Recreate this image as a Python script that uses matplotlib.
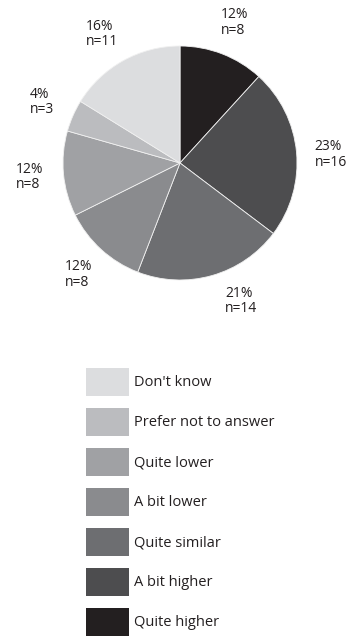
import matplotlib.pyplot as plt
from matplotlib.patches import Patch
import numpy as np

plt.rcParams['font.family'] = ['Open Sans', 'DejaVu Sans']

# answers, clockwise from the top
labels = ["Quite higher", "A bit higher", "Quite similar", "A bit lower",
          "Quite lower", "Prefer not to answer", "Don't know"]
counts = [8, 16, 14, 8, 8, 3, 11]
pcts = [12, 23, 21, 12, 12, 4, 16]
colors = ['#231f20', '#4d4d4f', '#6d6e71', '#8a8b8e',
          '#a0a1a4', '#bbbcbf', '#dcdddf']
# small angular nudges (degrees) for the value labels
nudge = [0, -2, 8, 0, 0, 0, 2]

W, H = 349, 639
fig = plt.figure(figsize=(W / 100, H / 100), dpi=100)

cx, cy, r = 180, 163, 117
ax = fig.add_axes([(cx - r) / W, (H - cy - r) / H, 2 * r / W, 2 * r / H])
wedges, _ = ax.pie(counts, colors=colors, startangle=90, counterclock=False,
                   radius=1, wedgeprops=dict(edgecolor='#f0f0f0', linewidth=0.6))
ax.set_xlim(-1, 1)
ax.set_ylim(-1, 1)
ax.set_aspect('equal')
ax.axis('off')

# value labels outside each wedge
for w, p, n, d in zip(wedges, pcts, counts, nudge):
    mid = np.deg2rad((w.theta1 + w.theta2) / 2 + d)
    x, y = 1.29 * np.cos(mid), 1.29 * np.sin(mid)
    ax.text(x, y, f"{p}%\nn={n}", ha='center', va='center', multialignment='left',
            fontsize=10, color='#231f20', linespacing=1.05)

handles = [Patch(facecolor=c, edgecolor='none') for c in colors]
fig.legend(handles[::-1], labels[::-1], loc='upper left',
           bbox_to_anchor=(86 / W, 1 - 368 / H), frameon=False,
           fontsize=10.5, handlelength=2.95, handleheight=2.58,
           labelspacing=0.82, handletextpad=0.34, borderpad=0,
           borderaxespad=0, labelcolor='#231f20')

fig.savefig('out.png', dpi=100)
